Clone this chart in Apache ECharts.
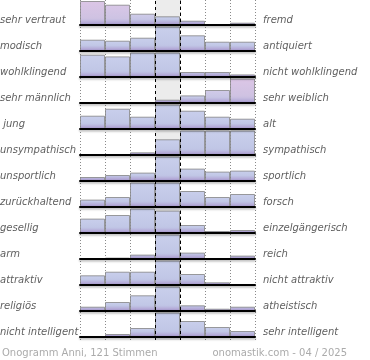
<!DOCTYPE html>
<html><head><meta charset="utf-8">
<script src="https://cdn.jsdelivr.net/npm/echarts@6/dist/echarts.min.js"></script>
<style>html,body{margin:0;padding:0;background:#fff}#c{width:370px;height:360px}</style>
</head><body><div id="c"></div>
<script>
// ---- data ----
const leftLabels = ['sehr vertraut','modisch','wohlklingend','sehr männlich',' jung','unsympathisch','unsportlich','zurückhaltend','gesellig','arm','attraktiv','religiös','nicht intelligent'];
const rightLabels = ['fremd','antiquiert','nicht wohlklingend','sehr weiblich','alt','sympathisch','sportlich','forsch','einzelgängerisch','reich','nicht attraktiv','atheistisch','sehr intelligent'];
const scaleSteps = ['1','2','3','4','5','6','7'];
const sehrVertraut     = [24, 20.3, 11.3, 8.7, 4.3, 0, 2.3];
const modisch          = [11.3, 10.3, 13.3, 30, 15.7, 9.3, 9.3];
const wohlklingend     = [22.3, 20.6, 28, 26, 5, 5, 2.6];
const sehrMaennlich    = [0, 0, 0, 3.3, 7.6, 13, 27];
const jung             = [13.3, 20.3, 12.3, 28, 18.3, 12.3, 10.3];
const unsympathisch    = [0, 1, 2.7, 15.7, 30, 30, 29];
const unsportlich      = [4, 6, 8.4, 30, 12.4, 9.4, 10.4];
const zurueckhaltend   = [7.4, 10, 26, 30, 16, 10, 13];
const gesellig         = [14.4, 18, 27, 22.4, 8, 2, 3];
const arm              = [0, 1.4, 4.4, 40, 6.4, 0, 3.4];
const attraktiv        = [9.7, 13.3, 13.3, 33, 11, 2.7, 0];
const religioes        = [4.3, 9, 15.7, 38, 5.7, 2.3, 4.3];
const nichtIntelligent = [0, 3, 9, 34, 16, 10, 6];
const rows = [sehrVertraut, modisch, wohlklingend, sehrMaennlich, jung, unsympathisch, unsportlich, zurueckhaltend, gesellig, arm, attraktiv, religioes, nichtIntelligent];
const footerLeft = 'Onogramm Anni, 121 Stimmen';
const footerRight = 'onomastik.com - 04 / 2025';

// ---- style / layout ----
const LEFT = 80, WIDTH = 175, ROW0 = 25, STEP = 26, H = 24, YMAX = 24;
const pinkTint = {'0-0': 1, '0-1': 0.85, '0-2': 0.35, '3-6': 1, '3-5': 0.45, '3-4': 0.15};
function mix(a, b, t) {
  const pa = [1,3,5].map(i => parseInt(a.substr(i,2),16));
  const pb = [1,3,5].map(i => parseInt(b.substr(i,2),16));
  return 'rgb(' + pa.map((v,k) => Math.round(v + (pb[k]-v)*t)).join(',') + ')';
}
function barStyle(v, r, c) {
  const h = Math.max(1, Math.min(v, YMAX) * H / YMAX);
  const t = pinkTint[r + '-' + c] || 0;
  const top = mix('#c9cfec', '#dcc6e6', t);
  const mid = mix('#c1c7e6', '#cfc2e2', t);
  const s1 = Math.max(0, 1 - 5 / h), s2 = Math.max(0, 1 - 2 / h);
  return {
    color: new echarts.graphic.LinearGradient(0, 0, 0, 1, [
      {offset: 0, color: top},
      {offset: Math.max(0.01, s1 * 0.9), color: mid},
      {offset: s1, color: mix('#bfc3e4', '#c7bde0', t)},
      {offset: s2, color: '#b3a8d6'},
      {offset: 1, color: '#9d92c6'}
    ]),
    borderColor: 'rgba(125,125,125,0.75)',
    borderWidth: 1
  };
}

const grids = [{left: LEFT, width: WIDTH, top: 0, height: 340}];
const xAxes = [{gridIndex: 0, type: 'value', min: 0, max: 7, interval: 1,
  axisLine: {show: false}, axisTick: {show: false}, axisLabel: {show: false},
  splitLine: {show: true, lineStyle: {color: '#8a8a8a', type: [1, 2], width: 1}}}];
const yAxes = [{gridIndex: 0, type: 'value', min: 0, max: 1, show: false, splitLine: {show: false}}];
const series = [
  {type: 'line', xAxisIndex: 0, yAxisIndex: 0, data: [], z: 0, silent: true,
   markArea: {silent: true, itemStyle: {color: '#ececec'}, data: [[{xAxis: 3}, {xAxis: 4}]]}},
  {type: 'line', xAxisIndex: 0, yAxisIndex: 0, data: [], z: 20, silent: true,
   markLine: {silent: true, symbol: 'none', label: {show: false},
     lineStyle: {color: '#000', type: [3, 3], width: 1}, data: [{xAxis: 3}, {xAxis: 4}]}}
];
const graphics = [];
rows.forEach((vals, r) => {
  const base = ROW0 + STEP * r;
  const gi = r + 1;
  grids.push({left: LEFT, width: WIDTH, top: base - H, height: H});
  xAxes.push({gridIndex: gi, type: 'category', data: scaleSteps, z: 10,
    axisLine: {show: true, lineStyle: {color: '#000', width: 2, shadowColor: 'rgba(0,0,0,0.3)', shadowBlur: 2, shadowOffsetY: 1.5}},
    axisTick: {show: false}, axisLabel: {show: false}, splitLine: {show: false}});
  yAxes.push({gridIndex: gi, type: 'value', min: 0, max: YMAX, show: false, splitLine: {show: false}});
  series.push({type: 'bar', xAxisIndex: gi, yAxisIndex: gi, barCategoryGap: '0%', barGap: '0%', clip: true, z: 2,
    silent: true, animation: false,
    data: vals.map((v, c) => v > 0 ? {value: v, itemStyle: barStyle(v, r, c)} : '-')});
  graphics.push({type: 'text', left: 0, top: base - 9.5, style: {text: leftLabels[r], fill: '#5f5f5f', font: 'italic 10px "DejaVu Sans"'}});
  graphics.push({type: 'text', left: 263, top: base - 9.5, style: {text: rightLabels[r], fill: '#5f5f5f', font: 'italic 10px "DejaVu Sans"'}});
});
graphics.push({type: 'text', left: 2, top: 348, style: {text: footerLeft, fill: '#ababab', font: '10px "DejaVu Sans"'}});
graphics.push({type: 'text', right: 23, top: 348, style: {text: footerRight, fill: '#ababab', font: '10px "DejaVu Sans"'}});

const chart = echarts.init(document.getElementById('c'), null, {renderer: 'canvas'});
chart.setOption({animation: false, grid: grids, xAxis: xAxes, yAxis: yAxes, series: series, graphic: graphics});
</script></body></html>
